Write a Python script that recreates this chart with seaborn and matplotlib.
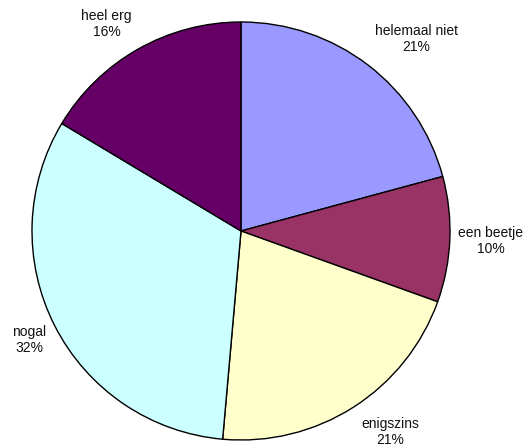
import matplotlib
matplotlib.use("Agg")
import matplotlib.pyplot as plt
import seaborn as sns

# data
categories = ["helemaal niet", "een beetje", "enigszins", "nogal", "heel erg"]
values = [20.8, 9.7, 20.9, 32.2, 16.4]
pct_labels = ["21%", "10%", "21%", "32%", "16%"]
colors = ["#9999FF", "#993366", "#FFFFCC", "#CCFFFF", "#660066"]

# label spots (pie radius = 1)
label_pos = [(0.840, 0.919), (1.196, -0.048), (0.713, -0.962),
             (-1.012, -0.522), (-0.643, 0.990)]

sns.set_style("white")
plt.rcParams['font.family'] = ['Liberation Sans', 'DejaVu Sans']

fig = plt.figure(figsize=(5.25, 4.48), dpi=100)
ax = fig.add_axes([0, 0, 1, 1])

labels = [f"{c}\n{p}" for c, p in zip(categories, pct_labels)]
wedges, texts = ax.pie(
    values,
    labels=labels,
    colors=sns.color_palette(colors),
    startangle=90,
    counterclock=False,
    radius=1.0,
    wedgeprops=dict(edgecolor='black', linewidth=1.0),
    textprops=dict(fontsize=10, color='#111111', linespacing=1.2),
)

for t, pos in zip(texts, label_pos):
    t.set_position(pos)
    t.set_ha('center')
    t.set_va('center')

ax.set_xlim(-241 / 209, (525 - 241) / 209)
ax.set_ylim(-(448 - 231) / 209, 231 / 209)
ax.set_aspect('auto')
ax.axis('off')

fig.savefig("out.png", dpi=100, facecolor='white')
